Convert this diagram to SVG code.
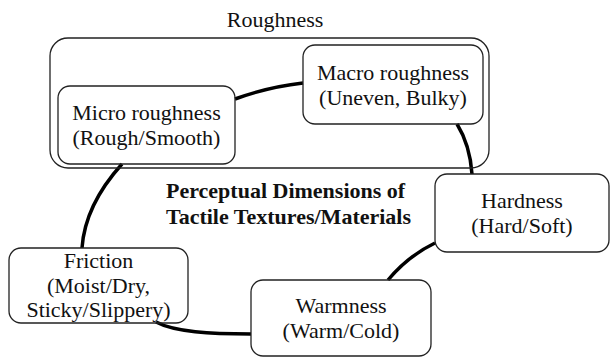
<svg xmlns="http://www.w3.org/2000/svg" width="610" height="358" viewBox="0 0 610 358">
<style>
.box{fill:none;stroke:#222;stroke-width:1.3}
.t{font-family:"Liberation Serif","Times New Roman",serif;font-size:22px;fill:#111;text-anchor:middle}
.title{font-family:"Liberation Serif","Times New Roman",serif;font-size:22px;font-weight:bold;fill:#111}
.c{fill:none;stroke:#000;stroke-width:3.5;stroke-linecap:butt}
</style>
<rect width="610" height="358" fill="#fff"/>
<g id="connectors">
<path class="c" d="M235,99 Q268,87 303,83"/>
<path class="c" d="M457,124 Q470,145 472,174"/>
<path class="c" d="M435,243 Q408,256 388,280"/>
<path class="c" d="M156,322 C175,332 210,334 251,334"/>
<path class="c" d="M122,164 Q85,205 82,248"/>
</g>
<g id="roughness">
<rect class="box" x="50" y="38" width="439" height="130" rx="18"/>
<text class="t" x="275" y="27">Roughness</text>
</g>
<g id="micro">
<rect class="box" x="58" y="86" width="177" height="78" rx="12"/>
<text class="t" x="146.5" y="120">Micro roughness</text>
<text class="t" x="146.5" y="145">(Rough/Smooth)</text>
</g>
<g id="macro">
<rect class="box" x="303" y="45" width="180" height="79" rx="12"/>
<text class="t" x="393" y="80">Macro roughness</text>
<text class="t" x="393" y="105">(Uneven, Bulky)</text>
</g>
<g id="hardness">
<rect class="box" x="435" y="174" width="174" height="78" rx="12"/>
<text class="t" x="522" y="208">Hardness</text>
<text class="t" x="522" y="233">(Hard/Soft)</text>
</g>
<g id="friction">
<rect class="box" x="9" y="248" width="179" height="75" rx="12"/>
<text class="t" x="98.5" y="268">Friction</text>
<text class="t" x="98.5" y="293">(Moist/Dry,</text>
<text class="t" x="98.5" y="317">Sticky/Slippery)</text>
</g>
<g id="warmness">
<rect class="box" x="251" y="280" width="180" height="76" rx="12"/>
<text class="t" x="341" y="313">Warmness</text>
<text class="t" x="341" y="338">(Warm/Cold)</text>
</g>
<g id="title">
<text class="title" x="166" y="198">Perceptual Dimensions of</text>
<text class="title" x="166" y="224">Tactile Textures/Materials</text>
</g>
</svg>
